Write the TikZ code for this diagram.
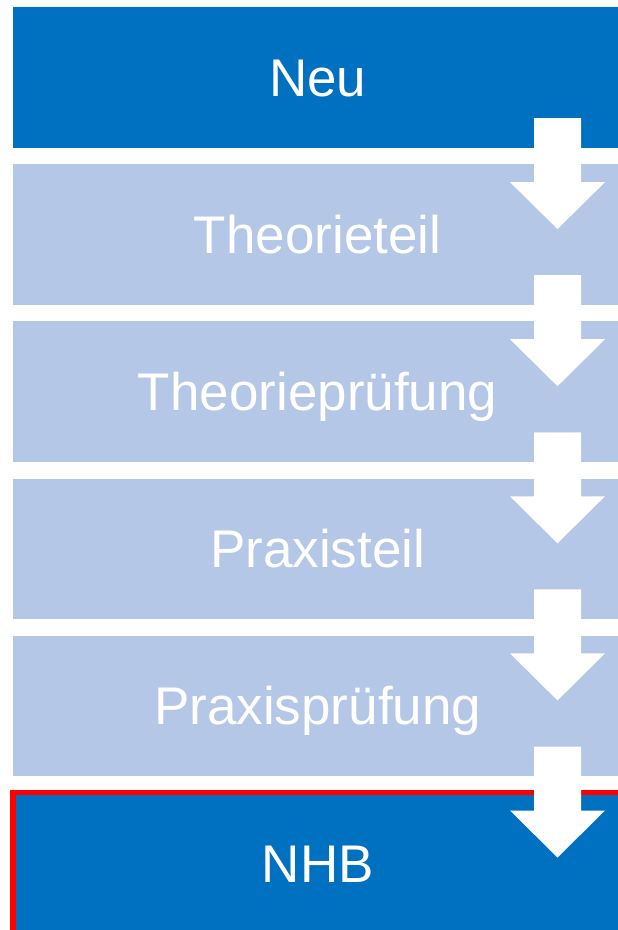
\documentclass[tikz,border=0pt]{standalone}
\usepackage{fontspec}
\setmainfont{Liberation Sans}
\usetikzlibrary{positioning, calc}
\definecolor{darkblue}{HTML}{0070C0}
\definecolor{lightblue}{HTML}{B4C7E7}

\begin{document}
\begin{tikzpicture}[x=1pt, y=-1pt, node distance = 16pt,
    stepbox/.style = {fill=lightblue, text=white, inner sep=0pt,
      minimum width=609pt, minimum height=140.7pt,
      text height=38pt, text depth=0pt,
      font=\fontsize{53}{60}\selectfont},
    endbox/.style = {stepbox, fill=darkblue}]
  \clip (0,0) rectangle (618,930);

  \node[endbox, anchor=north west] (neu) at (13,7) {Neu};
  \node[stepbox] (theorie) [below = of neu] {Theorieteil};
  \node[stepbox] (tpruef) [below = of theorie] {Theorieprüfung};
  \node[stepbox] (praxis) [below = of tpruef] {Praxisteil};
  \node[stepbox] (ppruef) [below = of praxis] {Praxisprüfung};
  \node[endbox] (nhb) [below = of ppruef] {NHB};

  % red frame on the last box
  \draw[red, line width=5.5pt] (nhb.south west) -- (nhb.north west) -- (nhb.north east);

  % block arrows
  \foreach \a/\b in {neu/theorie, theorie/tpruef, tpruef/praxis, praxis/ppruef, ppruef/nhb} {
    \fill[white] ($(\a.south west)+(521,-30)$) -- ++(47,0) -- ++(0,64) -- ++(24,0)
      -- ($(\b.north west)+(544.5,65)$)
      -- ($(\a.south west)+(497,34)$) -- ++(24,0) -- cycle;
  }
\end{tikzpicture}
\end{document}
